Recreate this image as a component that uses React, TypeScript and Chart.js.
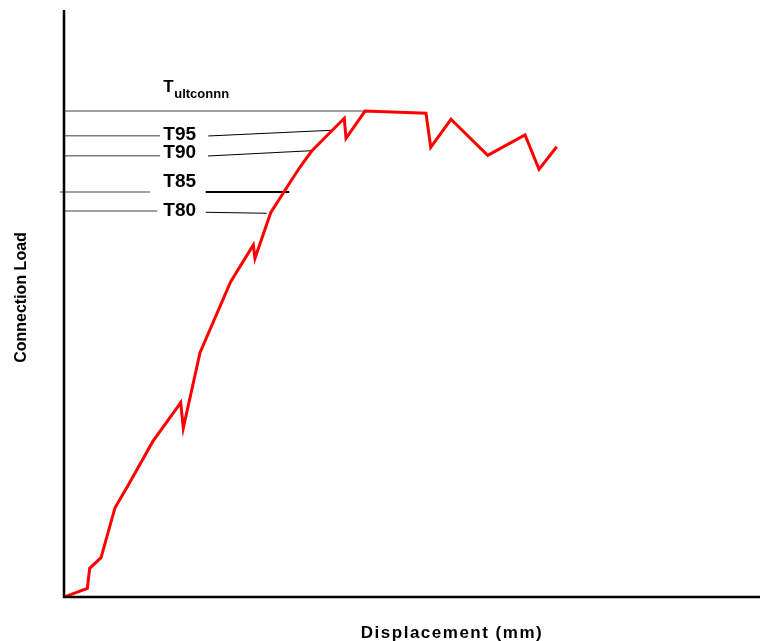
import React, { useEffect, useRef } from "react";
import { Chart, registerables } from "chart.js";

Chart.register(...registerables);

// Curve: displacement (arbitrary units 0..100) vs connection load (0..100)
const dispX = [0, 3.35, 3.69, 5.32, 7.33, 9.24, 12.74, 16.77, 17.14, 19.54, 23.95, 27.2, 27.44, 29.7, 32.33, 33.91, 35.59, 40.27, 40.52, 43.25, 52.01, 52.69, 55.6, 60.88, 66.24, 68.25, 70.79];
const loadY = [0, 1.48, 4.89, 6.7, 15.21, 19.08, 26.46, 33.13, 28.79, 41.62, 53.71, 59.97, 57.7, 65.47, 70.36, 73.25, 75.98, 81.55, 78.14, 82.79, 82.4, 76.61, 81.38, 75.25, 78.71, 72.86, 76.71];

// Threshold annotations
const levelLabels = ["T95", "T90", "T85", "T80"];
const levelY = [78.59, 75.18, 68.99, 65.76];
const leftStartX = [0, 0, -0.57, 0];
const leftEndX = [13.79, 13.79, 12.36, 13.41];
const rightStartX = [20.73, 20.69, 20.36, 20.36];
const rightStartY = [78.54, 75.13, 68.99, 65.54];
const rightEndX = [38.46, 35.59, 32.37, 29.12];
const rightEndY = [79.51, 76.03, 68.99, 65.37];
const labelX = 14.27;
const labelBaseY = [77.85, 74.74, 69.8, 64.91];

const ultLoad = 82.79;
const ultEndX = 43.25;
const ultLabelY = 86.08;
const ultMain = "T";
const ultSub = "ultconnn";

const xTitle = "Displacement (mm)";
const yTitle = "Connection Load";

const FONT = "'Liberation Sans', Arial, sans-serif";

const annotPlugin = {
  id: "annot",
  beforeDatasetsDraw(chart: any) {
    const { ctx, scales } = chart;
    const x = scales.x;
    const y = scales.y;
    ctx.save();
    ctx.strokeStyle = "#7f7f7f";
    ctx.lineWidth = 1.5;
    ctx.beginPath();
    ctx.moveTo(x.getPixelForValue(0), y.getPixelForValue(ultLoad));
    ctx.lineTo(x.getPixelForValue(ultEndX), y.getPixelForValue(ultLoad));
    ctx.stroke();
    for (let i = 0; i < levelLabels.length; i++) {
      ctx.strokeStyle = "#7f7f7f";
      ctx.lineWidth = 1.6;
      ctx.beginPath();
      ctx.moveTo(x.getPixelForValue(leftStartX[i]), y.getPixelForValue(levelY[i]));
      ctx.lineTo(x.getPixelForValue(leftEndX[i]), y.getPixelForValue(levelY[i]));
      ctx.stroke();
      ctx.strokeStyle = "#000";
      ctx.lineWidth = levelLabels[i] === "T85" ? 2 : 1;
      ctx.beginPath();
      ctx.moveTo(x.getPixelForValue(rightStartX[i]), y.getPixelForValue(rightStartY[i]));
      ctx.lineTo(x.getPixelForValue(rightEndX[i]), y.getPixelForValue(rightEndY[i]));
      ctx.stroke();
    }
    ctx.restore();
  },
  afterDraw(chart: any) {
    const { ctx, scales, chartArea } = chart;
    const x = scales.x;
    const y = scales.y;
    ctx.save();
    ctx.fillStyle = "#000";
    ctx.textBaseline = "alphabetic";
    ctx.textAlign = "left";
    ctx.font = `bold 19px ${FONT}`;
    for (let i = 0; i < levelLabels.length; i++) {
      ctx.fillText(levelLabels[i], x.getPixelForValue(labelX), y.getPixelForValue(labelBaseY[i]));
    }
    const ux = x.getPixelForValue(labelX);
    const uy = y.getPixelForValue(ultLabelY);
    ctx.font = `bold 17px ${FONT}`;
    ctx.fillText(ultMain, ux, uy);
    const w = ctx.measureText(ultMain).width;
    ctx.font = `bold 13px ${FONT}`;
    ctx.fillText(ultSub, ux + w + 0.5, uy + 6);

    // Axes lines
    ctx.strokeStyle = "#000";
    ctx.lineWidth = 2.5;
    ctx.beginPath();
    ctx.moveTo(chartArea.left, chartArea.top);
    ctx.lineTo(chartArea.left, chartArea.bottom);
    ctx.lineTo(chartArea.right, chartArea.bottom);
    ctx.stroke();

    // Axis titles
    ctx.font = `bold 17px ${FONT}`;
    ctx.textAlign = "center";
    (ctx as any).letterSpacing = "1.5px";
    ctx.fillText(xTitle, 452, 637.5);
    (ctx as any).letterSpacing = "0px";
    ctx.save();
    ctx.translate(26, 297.5);
    ctx.rotate(-Math.PI / 2);
    ctx.font = `bold 16px ${FONT}`;
    ctx.fillText(yTitle, 0, 0);
    ctx.restore();
    ctx.restore();
  },
};

export default function App() {
  const ref = useRef<HTMLCanvasElement | null>(null);
  useEffect(() => {
    if (!ref.current) return;
    const chart = new Chart(ref.current, {
      type: "line",
      data: {
        datasets: [
          {
            data: dispX.map((v, i) => ({ x: v, y: loadY[i] })),
            borderColor: "#ff0000",
            borderWidth: 3,
            pointRadius: 0,
            tension: 0,
            fill: false,
          },
        ],
      },
      options: {
        responsive: false,
        animation: false,
        layout: { padding: { left: 64, right: 0, top: 10, bottom: 44 } },
        plugins: { legend: { display: false }, tooltip: { enabled: false }, title: { display: false } },
        scales: {
          x: { type: "linear", min: 0, max: 100, display: false },
          y: { type: "linear", min: 0, max: 100, display: false },
        },
      },
      plugins: [annotPlugin],
    });
    return () => chart.destroy();
  }, []);
  return (
    <div style={{ position: "fixed", left: 0, top: 0, width: 760, height: 641, background: "#fff" }}>
      <canvas ref={ref} width={760} height={641} />
    </div>
  );
}
